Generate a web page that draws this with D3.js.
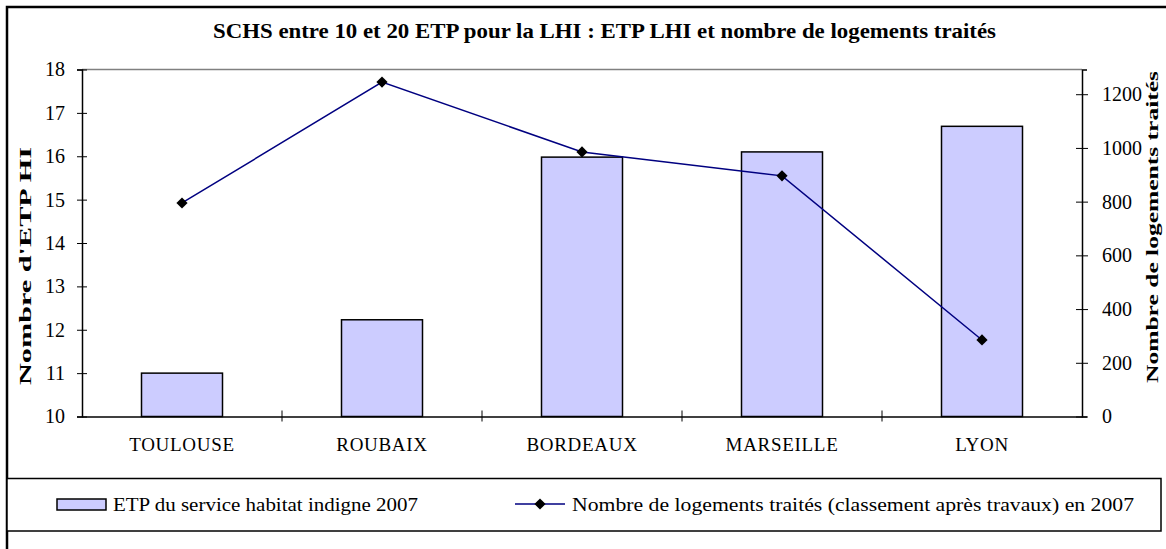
<!DOCTYPE html>
<html><head><meta charset="utf-8">
<script src="https://cdn.jsdelivr.net/npm/d3@7"></script>
<style>body{margin:0;background:#fff}svg{display:block}text{font-family:"Liberation Serif","Times New Roman",serif}</style>
</head><body><svg id="c" width="1166" height="549"></svg>
<script>
const categories = ["TOULOUSE","ROUBAIX","BORDEAUX","MARSEILLE","LYON"];
const etpValues = [11.0, 12.23, 15.98, 16.1, 16.69];
const logementsValues = [795, 1245, 985, 896, 285];
const leftTicks = [10,11,12,13,14,15,16,17,18];
const rightTicks = [0,200,400,600,800,1000,1200];
const title = "SCHS entre 10 et 20 ETP pour la LHI : ETP LHI et nombre de logements traités";
const leftTitle = "Nombre d'ETP HI";
const rightTitle = "Nombre de logements traités";
const legendBar = "ETP du service habitat indigne 2007";
const legendLine = "Nombre de logements traités (classement après travaux) en 2007";

const svg = d3.select("#c");
const L = 82, R = 1082, T = 69.5, B = 416.5;

svg.append("defs").append("clipPath").attr("id","rclip")
  .append("rect").attr("x",1100).attr("y",72).attr("width",70).attr("height",400);

// outer frame
svg.append("rect").attr("x",7).attr("y",7).attr("width",1200).attr("height",600)
  .attr("fill","none").attr("stroke","#000").attr("stroke-width",2.5);

svg.append("text").attr("x",213).attr("y",38)
  .attr("font-weight","bold").attr("font-size",21)
  .attr("textLength",783).attr("lengthAdjust","spacingAndGlyphs").text(title);

const xb = d3.scaleBand().domain(categories).range([L,R]);
const yL = d3.scaleLinear().domain([10,18]).range([B,T]);
const yR = d3.scaleLinear().domain([0,1292]).range([B,T]);

// plot area top border
svg.append("line").attr("x1",L).attr("x2",R).attr("y1",T).attr("y2",T).attr("stroke","#808080").attr("stroke-width",1.5);

// bars
svg.selectAll("rect.bar").data(categories).join("rect").attr("class","bar")
  .attr("x",d=>xb(d)+xb.bandwidth()/2-40.5).attr("width",81)
  .attr("y",(d,i)=>yL(etpValues[i])).attr("height",(d,i)=>B-yL(etpValues[i]))
  .attr("fill","#ccccff").attr("stroke","#000").attr("stroke-width",1.5);

// axes
const axL = svg.append("g").attr("transform",`translate(${L},0)`)
  .call(d3.axisLeft(yL).tickValues(leftTicks).tickSize(5).tickPadding(12).tickFormat(d3.format("d")));
axL.selectAll(".tick line").attr("x2",5).attr("x1",-5);
const axR = svg.append("g").attr("transform",`translate(${R},0)`)
  .call(d3.axisRight(yR).tickValues(rightTicks).tickSize(5).tickPadding(15).tickFormat(d3.format("d")));
axR.selectAll(".tick line").attr("x1",-6).attr("x2",6);
const axB = svg.append("g").attr("transform",`translate(0,${B})`)
  .call(d3.axisBottom(xb).tickSize(0).tickPadding(21));
[axL,axR,axB].forEach(a=>{
  a.select(".domain").attr("stroke","#000").attr("stroke-width",1.5);
  a.selectAll(".tick line").attr("stroke","#000");
  a.selectAll("text").attr("font-family","Liberation Serif").attr("font-size",20).attr("fill","#000");
});
axB.selectAll("text").attr("font-size",19).attr("letter-spacing","0.7px");
// category separators
svg.selectAll("line.sep").data(categories.slice(1)).join("line").attr("class","sep")
  .attr("x1",d=>xb(d)).attr("x2",d=>xb(d)).attr("y1",B-6).attr("y2",B+5).attr("stroke","#000");

// line
const cx = d=>xb(d)+xb.bandwidth()/2;
svg.append("path").datum(categories)
  .attr("d",d3.line().x(cx).y((d,i)=>yR(logementsValues[i])))
  .attr("fill","none").attr("stroke","#000080").attr("stroke-width",1.5);
svg.selectAll("path.mk").data(categories).join("path").attr("class","mk")
  .attr("d",d3.symbol().type(d3.symbolDiamond2).size(80))
  .attr("transform",(d,i)=>`translate(${cx(d)},${yR(logementsValues[i])})`)
  .attr("fill","#000");

// axis titles
svg.append("text").attr("transform","translate(31,385) rotate(-90)")
  .attr("font-weight","bold").attr("font-size",17)
  .attr("textLength",238).attr("lengthAdjust","spacingAndGlyphs").text(leftTitle);
svg.append("g").attr("clip-path","url(#rclip)").append("text")
  .attr("transform","translate(1158,383) rotate(-90)")
  .attr("font-weight","bold").attr("font-size",17)
  .attr("textLength",312).attr("lengthAdjust","spacingAndGlyphs").text(rightTitle);

// legend
svg.append("rect").attr("x",7).attr("y",478.5).attr("width",1154).attr("height",52.5)
  .attr("fill","#fff").attr("stroke","#000").attr("stroke-width",1.5);
svg.append("rect").attr("x",57).attr("y",499).attr("width",49).attr("height",11)
  .attr("fill","#ccccff").attr("stroke","#000").attr("stroke-width",1.5);
svg.append("text").attr("x",113).attr("y",511).attr("font-size",19)
  .attr("textLength",305).attr("lengthAdjust","spacingAndGlyphs").text(legendBar);
svg.append("line").attr("x1",515).attr("x2",565).attr("y1",504).attr("y2",504).attr("stroke","#000080").attr("stroke-width",1.5);
svg.append("path").attr("d",d3.symbol().type(d3.symbolDiamond2).size(80)).attr("transform","translate(540,504)");
svg.append("text").attr("x",572).attr("y",511).attr("font-size",19)
  .attr("textLength",562).attr("lengthAdjust","spacingAndGlyphs").text(legendLine);
</script></body></html>
